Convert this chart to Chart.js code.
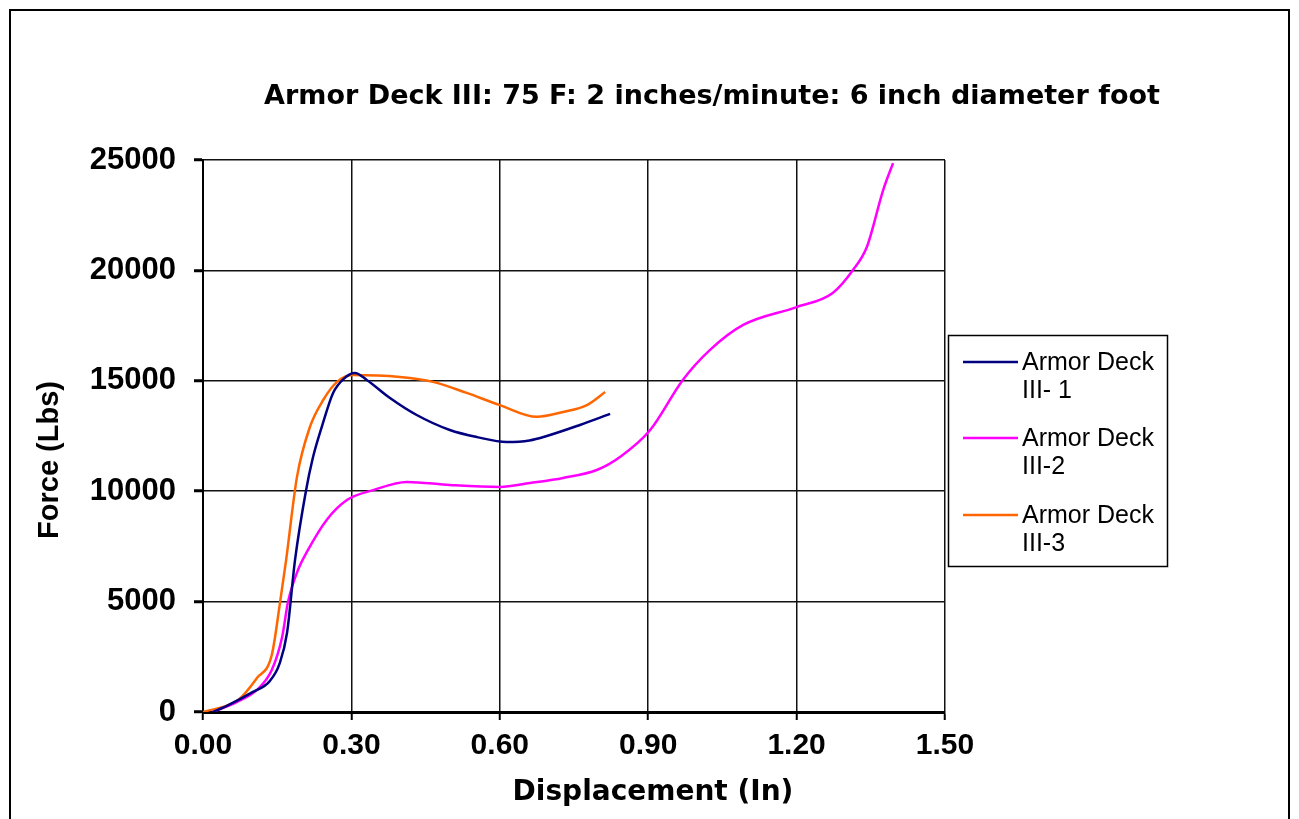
<!DOCTYPE html>
<html>
<head>
<meta charset="utf-8">
<script src="https://cdn.jsdelivr.net/npm/chart.js@4/dist/chart.umd.min.js"></script>
<style>
html,body{margin:0;padding:0;background:#fff;}
#wrap{position:relative;width:1299px;height:819px;}
</style>
</head>
<body>
<div id="wrap"><canvas id="c" width="1299" height="819"></canvas></div>
<script>
const chartTitle = "Armor Deck III: 75 F: 2 inches/minute: 6 inch diameter foot";
const xAxisTitle = "Displacement (In)";
const yAxisTitle = "Force (Lbs)";
const seriesNames = [["Armor Deck", "III- 1"], ["Armor Deck", "III-2"], ["Armor Deck", "III-3"]];
const seriesColors = ["#000080", "#FF00FF", "#FF6600"];

// Armor Deck III-1
const s1x = [0.02, 0.05, 0.10, 0.135, 0.155, 0.17, 0.186, 0.208, 0.222, 0.24, 0.263, 0.285, 0.307, 0.331, 0.378, 0.432, 0.499, 0.554, 0.614, 0.66, 0.695, 0.762, 0.823];
const s1y = [0, 300, 900, 1400, 2200, 3600, 6880, 10000, 11500, 12900, 14450, 15100, 15350, 15040, 14220, 13450, 12770, 12450, 12230, 12300, 12500, 13000, 13500];
// Armor Deck III-2
const s2x = [0.02, 0.068, 0.109, 0.139, 0.16, 0.172, 0.192, 0.21, 0.25, 0.291, 0.344, 0.412, 0.499, 0.6, 0.661, 0.728, 0.796, 0.843, 0.904, 0.97, 1.025, 1.092, 1.2, 1.273, 1.314, 1.342, 1.375, 1.395];
const s2y = [0, 450, 1000, 1900, 3400, 5000, 6430, 7250, 8700, 9600, 10050, 10420, 10280, 10190, 10370, 10600, 10960, 11550, 12770, 15040, 16400, 17530, 18340, 18980, 20020, 21060, 23640, 24860];
// Armor Deck III-3
const s3x = [0.0, 0.071, 0.109, 0.139, 0.156, 0.168, 0.19, 0.216, 0.243, 0.271, 0.303, 0.398, 0.465, 0.533, 0.6, 0.675, 0.728, 0.776, 0.813];
const s3y = [0, 540, 1540, 2580, 5000, 6880, 10650, 12900, 14130, 14950, 15260, 15170, 14950, 14450, 13900, 13370, 13590, 13900, 14490];

const xTicks = [0, 0.3, 0.6, 0.9, 1.2, 1.5];
const yTicks = [0, 5000, 10000, 15000, 20000, 25000];

function pts(xs, ys){ return xs.map((x,i)=>({x:x, y:ys[i]})); }

const BOLD = "'Liberation Sans', Arial, sans-serif";
const WIDE = "'DejaVu Sans', sans-serif";

const framePlugin = {
  id: 'frame',
  beforeDraw(chart){
    const ctx = chart.ctx;
    ctx.save();
    ctx.fillStyle = '#fff';
    ctx.fillRect(0,0,chart.width,chart.height);
    ctx.strokeStyle = '#000';
    ctx.lineWidth = 2;
    ctx.beginPath();
    ctx.moveTo(10, 830); ctx.lineTo(10, 10); ctx.lineTo(1289, 10); ctx.lineTo(1289, 830);
    ctx.stroke();
    ctx.restore();
  },
  afterDraw(chart){
    const ctx = chart.ctx;
    ctx.save();
    ctx.fillStyle = '#000';
    ctx.textAlign = 'center';
    ctx.textBaseline = 'middle';
    ctx.font = "bold 27px " + WIDE;
    ctx.fillText(chartTitle, 712, 97);
    ctx.font = "bold 28px " + WIDE;
    ctx.fillText(xAxisTitle, 653, 793);
    ctx.font = "bold 29px " + BOLD;
    ctx.save();
    ctx.translate(50, 460);
    ctx.rotate(-Math.PI/2);
    ctx.fillText(yAxisTitle, 0, 0);
    ctx.restore();

    // legend
    ctx.strokeStyle = '#000';
    ctx.lineWidth = 1.5;
    ctx.strokeRect(948.5, 335.5, 219, 231);
    const rows = [362, 438, 515];
    ctx.font = "25px " + BOLD;
    ctx.textAlign = 'left';
    chart.data.datasets.forEach((ds, i) => {
      const y = rows[i];
      ctx.strokeStyle = ds.borderColor;
      ctx.lineWidth = 2.5;
      ctx.beginPath(); ctx.moveTo(963, y); ctx.lineTo(1018, y); ctx.stroke();
      ctx.fillStyle = '#000';
      ctx.fillText(seriesNames[i][0], 1022, y + 1);
      ctx.fillText(seriesNames[i][1], 1022, y + 29);
    });
    ctx.restore();
  }
};

const datasets = [pts(s1x,s1y), pts(s2x,s2y), pts(s3x,s3y)].map((d,i)=>({
  label: seriesNames[i].join(' '),
  data: d,
  borderColor: seriesColors[i],
  backgroundColor: seriesColors[i],
  borderWidth: 2.5,
  showLine: true,
  pointRadius: 0,
  tension: 0.35,
  cubicInterpolationMode: 'monotone'
}));

new Chart(document.getElementById('c'), {
  type: 'scatter',
  data: { datasets },
  options: {
    responsive: false,
    animation: false,
    layout: { padding: { left: 0, top: 160, right: 354, bottom: 0 } },
    plugins: { legend: { display: false }, title: { display: false }, tooltip: { enabled: false } },
    scales: {
      x: {
        type: 'linear', min: 0, max: 1.5,
        afterBuildTicks(s){ s.ticks = xTicks.map(v=>({value:v})); },
        afterFit(s){ s.height = 107; },
        ticks: { color: '#000', font: { family: BOLD, size: 30, weight: 'bold' }, padding: 8,
          callback: v => Number(v).toFixed(2), maxRotation: 0, autoSkip: false },
        grid: { color: '#111', lineWidth: 1.5, tickLength: 8, tickColor: '#000', tickWidth: 2 },
        border: { color: '#000', width: 3 }
      },
      y: {
        type: 'linear', min: 0, max: 25000,
        afterBuildTicks(s){ s.ticks = yTicks.map(v=>({value:v})); },
        afterFit(s){ s.width = 203; },
        ticks: { color: '#000', font: { family: BOLD, size: 31, weight: 'bold' }, padding: 18,
          callback: v => String(v) },
        grid: { color: '#111', lineWidth: 1.5, tickLength: 9, tickColor: '#000', tickWidth: 3 },
        border: { color: '#000', width: 2 }
      }
    }
  },
  plugins: [framePlugin]
});
</script>
</body>
</html>
